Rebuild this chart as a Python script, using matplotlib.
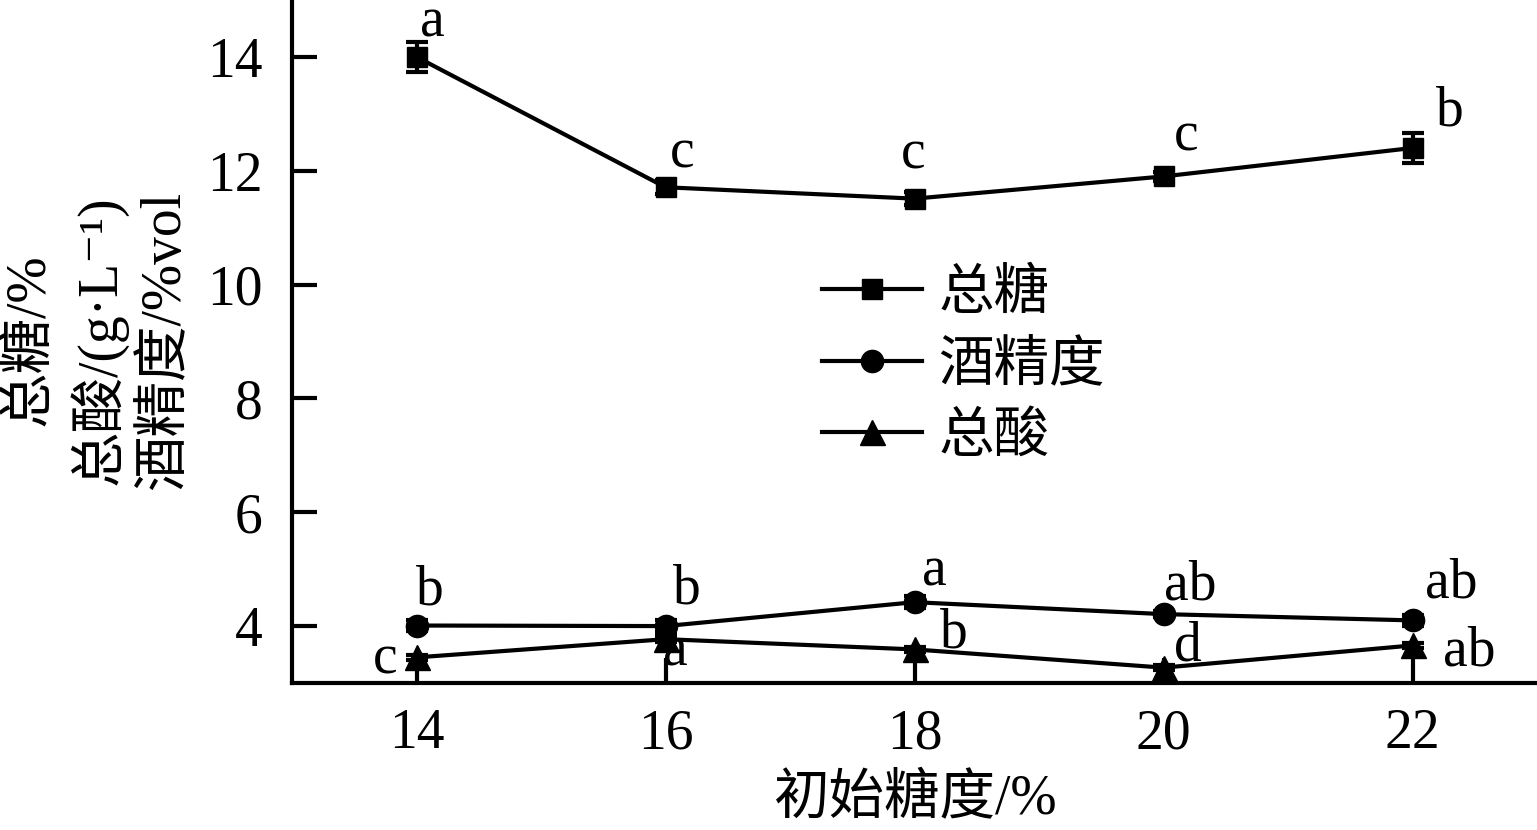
import matplotlib
matplotlib.use("Agg")
from matplotlib import pyplot as plt
from matplotlib.lines import Line2D

# data
x = [14, 16, 18, 20, 22]
sugar = [14.0, 11.71, 11.51, 11.90, 12.40]
sugar_err = [0.27, 0.12, 0.12, 0.08, 0.27]
alcohol = [4.01, 4.0, 4.42, 4.21, 4.10]
alcohol_err = [0.1, 0.1, 0.1, 0.05, 0.1]
acid = [3.45, 3.77, 3.59, 3.27, 3.66]
acid_err = [0.05, 0.05, 0.05, 0.05, 0.05]

sugar_sig = ["a", "c", "c", "c", "b"]
alcohol_sig = ["b", "b", "a", "ab", "ab"]
acid_sig = ["c", "a", "b", "d", "ab"]

series_labels = ["总糖", "酒精度", "总酸"]
xlabel = "初始糖度/%"
ylabel = "总糖/%\n总酸/(g·L⁻¹)\n酒精度/%vol"

# label offsets in pixels (dx, dy up) from the marker, baseline-anchored
sugar_off = [(16, 20), (17, 20), (-1, 30), (23, 26), (37, 22)]
alcohol_off = [(13, 21), (21, 23), (20, 17), (27, 15), (39, 23)]
acid_off = [(-31, -16), (10, -26), (39, 2), (24, 7), (57, -20)]

plt.rcParams['font.family'] = ['Liberation Serif', 'Noto Sans CJK SC', 'DejaVu Serif']
plt.rcParams['font.size'] = 40

fig = plt.figure(figsize=(15.37, 8.3), dpi=100)
ax = fig.add_axes([292 / 1537, 1 - 683 / 830, 1 - 292 / 1537, 683 / 830])

markers = ['s', 'o', '^']
msizes = [15, 16, 18]
common = dict(color='black', linewidth=3, elinewidth=3, capsize=8, capthick=3)
for vals, errs, m, ms in zip([sugar, alcohol, acid], [sugar_err, alcohol_err, acid_err], markers, msizes):
    ax.errorbar(x, vals, yerr=errs, marker=m, markersize=ms, **common)

px = 0.72  # points per pixel at 100 dpi
for vals, sigs, offs in [(sugar, sugar_sig, sugar_off),
                         (alcohol, alcohol_sig, alcohol_off),
                         (acid, acid_sig, acid_off)]:
    for xi, yi, s, (dx, dy) in zip(x, vals, sigs, offs):
        ax.annotate(s, (xi, yi), xytext=(dx * px, dy * px), textcoords='offset points',
                    ha='center', va='baseline', fontsize=40)

ax.set_xlim(13, 23)
ax.set_ylim(3, 15)
ax.set_xticks(x)
ax.set_yticks([4, 6, 8, 10, 12, 14])
ax.spines['top'].set_visible(False)
ax.spines['right'].set_visible(False)
for sp in ['left', 'bottom']:
    ax.spines[sp].set_linewidth(3)
ax.tick_params(axis='both', direction='in', length=18, width=3, labelsize=40)
ax.tick_params(axis='x', pad=18)
ax.tick_params(axis='y', pad=21)
ax.set_xlabel(xlabel, fontsize=40, labelpad=10)

fig.text(97 / 1537, 1 - 340 / 830, ylabel, rotation=90, ha='center', va='center',
         multialignment='center', fontsize=40, linespacing=1.27)

handles = [Line2D([], [], color='black', linewidth=3, marker=m, markersize=ms)
           for m, ms in zip(markers, msizes)]
ax.legend(handles, series_labels, loc='upper left', bbox_to_anchor=(0.403, 0.647),
          frameon=False, fontsize=40, handlelength=1.8, handletextpad=0.3,
          labelspacing=0.35, borderpad=0)

fig.savefig("out.png", dpi=100)
